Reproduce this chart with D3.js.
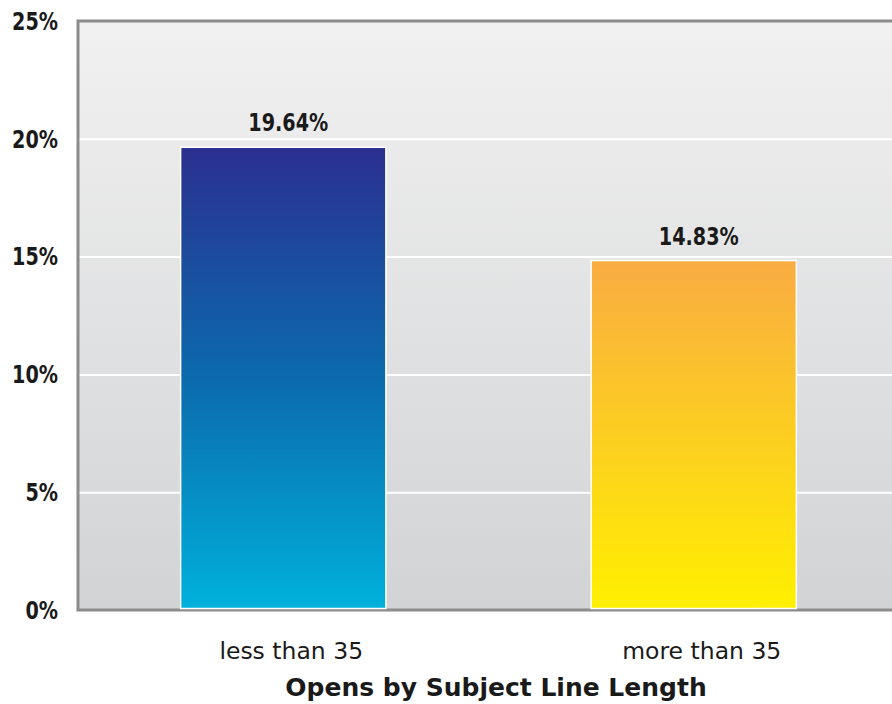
<!DOCTYPE html>
<html>
<head>
<meta charset="utf-8">
<script src="https://cdn.jsdelivr.net/npm/d3@7"></script>
<style>
  html, body { margin: 0; padding: 0; background: #fff; }
  svg { display: block; }
  text { font-family: "DejaVu Sans", sans-serif; fill: #1a1a1a; }
  .narrow { font-family: "DejaVu Sans Condensed", "DejaVu Sans", sans-serif; }
</style>
</head>
<body>
<svg id="chart" width="892" height="704"></svg>
<script>
// Open rate by subject line length
const categories = ["less than 35", "more than 35"];
const openRates = [19.64, 14.83];
const tickValues = [0, 5, 10, 15, 20, 25];
const tickLabels = ["0%", "5%", "10%", "15%", "20%", "25%"];
const valueLabels = ["19.64%", "14.83%"];
const axisTitle = "Opens by Subject Line Length";

const W = 892, H = 704;
const margin = { top: 21, right: -7, bottom: 94, left: 78 };

const svg = d3.select("#chart");
const defs = svg.append("defs");

function vGrad(id, stops) {
  const g = defs.append("linearGradient").attr("id", id)
    .attr("x1", 0).attr("y1", 0).attr("x2", 0).attr("y2", 1);
  stops.forEach(([o, c]) => g.append("stop").attr("offset", o).attr("stop-color", c));
}
vGrad("bgGrad", [[0, "#f1f1f1"], [1, "#d2d3d5"]]);
vGrad("barGrad0", [[0, "#2b2f8f"], [0.5, "#0b6aad"], [1, "#00b1db"]]);
vGrad("barGrad1", [[0, "#f9ac42"], [1, "#fff000"]]);

const x = d3.scaleBand()
  .domain(categories)
  .range([margin.left, W - margin.right])
  .paddingInner(0.5)
  .paddingOuter(0.25);

const y = d3.scaleLinear()
  .domain([0, 25])
  .range([H - margin.bottom, margin.top]);

const x0 = margin.left, x1 = W - margin.right;
const yTop = y(25), yBot = y(0);

// plot background
svg.append("rect")
  .attr("x", x0).attr("y", yTop)
  .attr("width", x1 - x0).attr("height", yBot - yTop)
  .attr("fill", "url(#bgGrad)");

// gridlines
const grid = d3.axisLeft(y).tickValues(tickValues.slice(1, -1))
  .tickSize(-(x1 - x0)).tickFormat("");
svg.append("g")
  .attr("transform", `translate(${x0},0)`)
  .call(grid)
  .call(g => g.select(".domain").remove())
  .call(g => g.selectAll("line").attr("stroke", "#ffffff").attr("stroke-width", 2));

// frame: left, top, bottom
svg.append("path")
  .attr("d", `M${x1},${yTop}H${x0}V${yBot}H${x1}`)
  .attr("fill", "none").attr("stroke", "#8c8c8c").attr("stroke-width", 3);

// bars
svg.append("g").selectAll("rect")
  .data(openRates)
  .join("rect")
  .attr("x", (d, i) => x(categories[i]))
  .attr("y", d => y(d))
  .attr("width", x.bandwidth())
  .attr("height", d => y(0) - y(d) - 1.5)
  .attr("fill", (d, i) => `url(#barGrad${i})`)
  .attr("stroke", "#ffffff")
  .attr("stroke-width", 1.5);

// value labels (tall, narrow face)
svg.append("g").selectAll("text")
  .data(openRates)
  .join("text")
  .attr("class", "narrow")
  .attr("transform", (d, i) =>
    `translate(${x(categories[i]) + x.bandwidth() / 2 + 5},${y(d) - 16}) scale(0.87,1)`)
  .attr("text-anchor", "middle")
  .attr("font-size", 24.5)
  .attr("font-weight", "bold")
  .text((d, i) => valueLabels[i]);

// y axis tick labels
svg.append("g").selectAll("text")
  .data(tickValues)
  .join("text")
  .attr("class", "narrow")
  .attr("transform", d => `translate(${x0 - 20},${y(d)}) scale(0.87,1)`)
  .attr("dy", "0.36em")
  .attr("text-anchor", "end")
  .attr("font-size", 24.5)
  .attr("font-weight", "bold")
  .text((d, i) => tickLabels[i]);

// x axis category labels
const xAxis = d3.axisBottom(x).tickSize(0).tickPadding(32);
svg.append("g")
  .attr("transform", `translate(8,${yBot})`)
  .call(xAxis)
  .call(g => g.select(".domain").remove())
  .call(g => g.selectAll("text")
    .attr("font-size", 23.5)
    .attr("font-family", "'DejaVu Sans', sans-serif")
    .attr("fill", "#1a1a1a"));

// axis title
svg.append("text")
  .attr("x", 496)
  .attr("y", 696)
  .attr("text-anchor", "middle")
  .attr("font-size", 25)
  .attr("font-weight", "bold")
  .text(axisTitle);
</script>
</body>
</html>
